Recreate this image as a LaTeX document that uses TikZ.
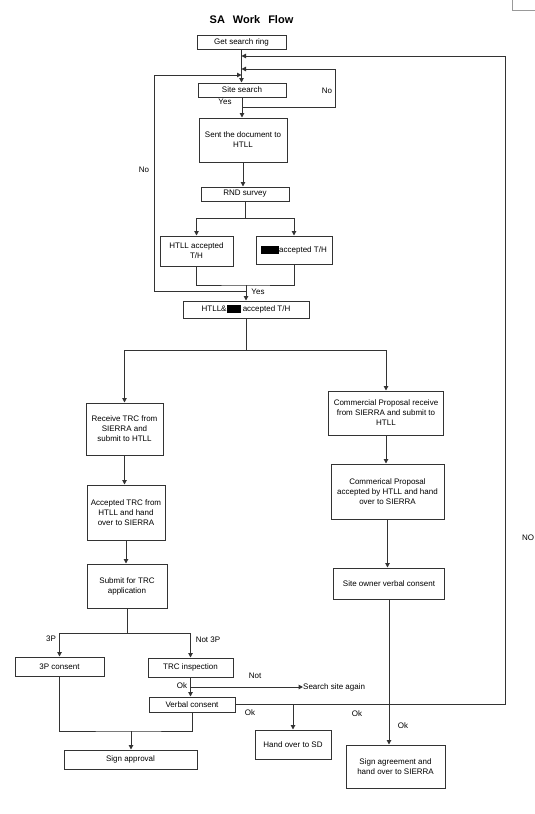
\documentclass[tikz,border=0pt]{standalone}
\usepackage{fontspec}
\setmainfont{Liberation Sans}
\usepackage{tikz}
\usetikzlibrary{shapes,arrows,positioning,calc,arrows.meta}
\newcommand{\blot}[1]{\rule[-1.5pt]{#1}{8pt}}

\begin{document}
\begin{tikzpicture}[x=1pt, y=-1pt,
    font=\fontsize{8}{10}\selectfont,
    flow/.style={draw=black!80, line width=1pt},
    arr/.style={flow, -{Triangle[length=4.5pt, width=4.5pt]}},
    box/.style={draw=black!80, line width=1pt, align=center, inner sep=1pt},
    lbl/.style={inner sep=0pt}]
    \useasboundingbox (0,0) rectangle (535,814);
    \draw[black!40, line width=0.6pt] (512,0) -- (512,10) -- (535,10);

    % Title
    \node[font=\bfseries\fontsize{11}{13}\selectfont] (title) at (251.5,20) {SA\hspace{8pt}Work\hspace{8pt}Flow};

    % Search part
    \node[box, minimum width=89, minimum height=14] (ring) at (241.5,42) {Get search ring};
    \node[box, minimum width=88, minimum height=14] (site) at (242,90) {Site search};
    \node[box, minimum width=88, minimum height=44] (sent) at (243,140) {Sent the document to\\HTLL};
    \node[box, minimum width=88, minimum height=14] (rnd) at (245,194) {RND survey};
    \node[box, minimum width=73, minimum height=30] (htll) at (196.5,251) {HTLL accepted\\T/H};
    \node[box, minimum width=76, minimum height=28] (other) at (294,250) {\blot{18pt}accepted T/H};
    \node[box, minimum width=126, minimum height=17] (both) at (246,309.5) {HTLL\&\blot{14pt} accepted T/H};

    % Left column
    \node[box, minimum width=77, minimum height=52] (recv) at (124.5,429) {Receive TRC from\\SIERRA and\\submit to HTLL};
    \node[box, minimum width=78, minimum height=55] (acc) at (126,512.5) {Accepted TRC from\\HTLL and hand\\over to SIERRA};
    \node[box, minimum width=80, minimum height=44] (sub) at (127,586) {Submit for TRC\\application};
    \node[box, minimum width=89, minimum height=19] (p3) at (59.5,666.5) {3P consent};
    \node[box, minimum width=85, minimum height=19] (insp) at (190.5,667.5) {TRC inspection};
    \node[box, minimum width=86, minimum height=15] (verb) at (192,704.5) {Verbal consent};
    \node[box, minimum width=133, minimum height=19] (appr) at (130.5,759.5) {Sign approval};
    \node[box, minimum width=76, minimum height=29] (sd) at (293,744.5) {Hand over to SD};
    \node[lbl, anchor=west] (again) at (303,687) {Search site again};

    % Right column
    \node[box, minimum width=115, minimum height=44] (cp) at (386,413) {Commercial Proposal receive\\from SIERRA and submit to\\HTLL};
    \node[box, minimum width=113, minimum height=55] (cpa) at (387.5,491.5) {Commerical Proposal\\accepted by HTLL and hand\\over to SIERRA};
    \node[box, minimum width=111, minimum height=31] (own) at (389,583.5) {Site owner verbal consent};
    \node[box, minimum width=99, minimum height=43] (sign) at (395.5,766.5) {Sign agreement and\\hand over to SIERRA};

    % Loop points
    \coordinate (backTop) at (505,56);
    \coordinate (noB) at (335,107);
    \coordinate (noT) at (335,69);
    \coordinate (leftB) at (154,291);
    \coordinate (leftT) at (154,75);
    \coordinate (mrg) at (246,285);
    \coordinate (ap) at (131,731);

    % Connectors
    \draw[arr] (ring.south) -- (ring.south |- site.north);
    \draw[arr] (site.south) -- (site.south |- sent.north);
    \draw[arr] (sent.south) -- (sent.south |- rnd.north);
    \draw[arr] (rnd.south) -- ++(0,17) -| (htll.north);
    \draw[arr] (rnd.south) -- ++(0,17) -| (other.north);
    \draw[flow] (htll.south) |- (mrg) -| (other.south);
    \draw[arr] (mrg) -- (both.north);
    \draw[arr] (site.south |- noB) -- (noB) -- (noT) -- (ring.south |- noT);
    \draw[arr] (both.north |- leftB) -- (leftB) -- (leftT) -- (ring.south |- leftT);
    \draw[arr] (both.south) -- ++(0,32) -| (recv.north);
    \draw[arr] (both.south) -- ++(0,32) -| (cp.north);
    \draw[arr] (recv.south) -- (recv.south |- acc.north);
    \draw[arr] (acc.south) -- (acc.south |- sub.north);
    \draw[arr] (sub.south) -- ++(0,25) -| (p3.north);
    \draw[arr] (sub.south) -- ++(0,25) -| (insp.north);
    \draw[arr] (insp.south) -- (insp.south |- verb.north);
    \draw[arr] (insp.south |- again.west) -- (again.west);
    \draw[flow] (p3.south) |- (ap) -| (verb.south);
    \draw[arr] (ap) -- (ap |- appr.north);
    \draw[arr] (verb.east) -| (backTop) -- (ring.south |- backTop);
    \draw[arr] (sd.north |- verb.east) -- (sd.north);
    \draw[arr] (cp.south) -- (cp.south |- cpa.north);
    \draw[arr] (cpa.south) -- (cpa.south |- own.north);
    \draw[arr] (own.south) -- (own.south |- sign.north);

    % Labels
    \node[lbl] (yes1) at (225,102) {Yes};
    \node[lbl] (no1) at (327,91) {No};
    \node[lbl] (no2) at (144,170) {No};
    \node[lbl] (yes2) at (258,292) {Yes};
    \node[lbl] (l3p) at (51,639) {3P};
    \node[lbl] (not3p) at (208,640) {Not 3P};
    \node[lbl] (ok1) at (182,686) {Ok};
    \node[lbl] (notok) at (255,676) {Not};
    \node[lbl] (ok2) at (250,713) {Ok};
    \node[lbl] (ok3) at (357,714) {Ok};
    \node[lbl] (ok4) at (403,726) {Ok};
    \node[lbl] (noR) at (528,538) {NO};
\end{tikzpicture}
\end{document}
